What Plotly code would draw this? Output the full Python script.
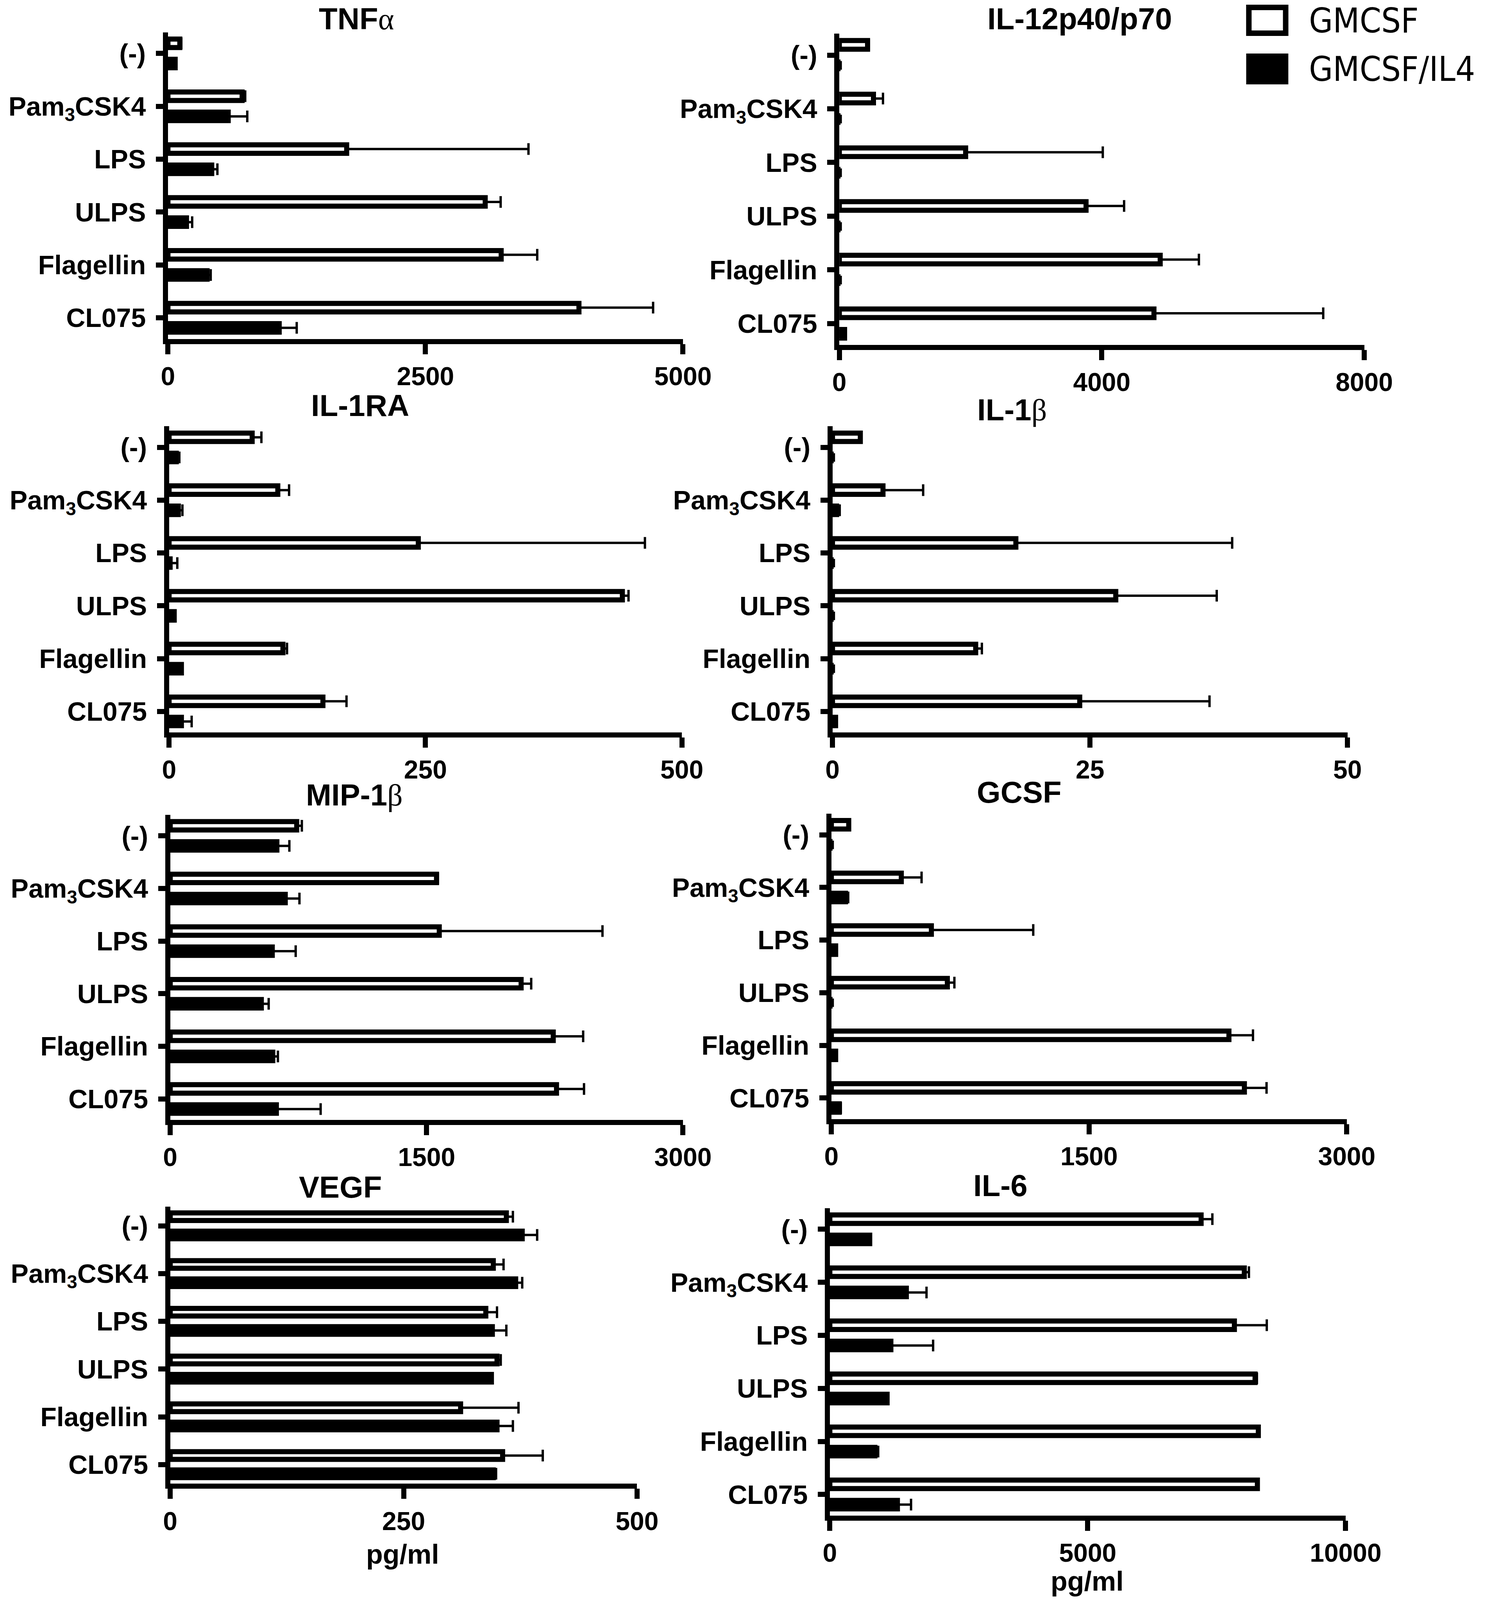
"""
Cytokine secretion panels: GMCSF vs GMCSF/IL4 derived cells, TLR stimulation
"""

import plotly.graph_objects as go

# categories (top to bottom)
stimuli = ["(-)", "Pam<sub>3</sub>CSK4", "LPS", "ULPS", "Flagellin", "CL075"]

# panel titles
titles = ["TNF<span style='font-family:Liberation Serif;font-weight:normal'>α</span>",
          "IL-12p40/p70", "IL-1RA",
          "IL-1<span style='font-family:Liberation Serif;font-weight:normal'>β</span>",
          "MIP-1<span style='font-family:Liberation Serif;font-weight:normal'>β</span>",
          "GCSF", "VEGF", "IL-6"]

# x axis ticks per panel
tick_vals = [[0, 2500, 5000], [0, 4000, 8000], [0, 250, 500], [0, 25, 50],
             [0, 1500, 3000], [0, 1500, 3000], [0, 250, 500], [0, 5000, 10000]]
tick_text = [["0", "2500", "5000"], ["0", "4000", "8000"], ["0", "250", "500"],
             ["0", "25", "50"], ["0", "1500", "3000"], ["0", "1500", "3000"],
             ["0", "250", "500"], ["0", "5000", "10000"]]

# pg/ml, mean and SEM (upper bar only)
tnf_gm = [115, 720, 1735, 3080, 3235, 3990]
tnf_gm_err = [15, 30, 1765, 150, 350, 720]
tnf_il4 = [70, 585, 425, 180, 380, 1080]
tnf_il4_err = [10, 185, 55, 55, 35, 170]

il12_gm = [430, 520, 1925, 3760, 4890, 4795]
il12_gm_err = [20, 145, 2090, 580, 590, 2580]
il12_il4 = [0, 0, 0, 0, 0, 80]
il12_il4_err = [0, 0, 0, 0, 0, 0]

il1ra_gm = [81, 106, 243, 442, 111, 150]
il1ra_gm_err = [9, 11, 221, 6, 4, 23]
il1ra_il4 = [7, 9, 1, 5, 12, 12]
il1ra_il4_err = [3, 4, 7, 0, 0, 10]

il1b_gm = [2.7, 4.9, 17.8, 27.5, 13.9, 24.0]
il1b_gm_err = [0, 3.9, 21.0, 9.8, 0.6, 12.6]
il1b_il4 = [0, 0.4, 0, 0, 0, 0.3]
il1b_il4_err = [0, 0.3, 0, 0, 0, 0]

mip_gm = [740, 1558, 1574, 2053, 2241, 2260]
mip_gm_err = [30, 8, 955, 59, 175, 161]
mip_il4 = [624, 673, 597, 533, 600, 621]
mip_il4_err = [73, 83, 137, 43, 30, 259]

gcsf_gm = [101, 407, 582, 675, 2314, 2404]
gcsf_gm_err = [5, 118, 593, 41, 140, 129]
gcsf_il4 = [0, 82, 25, 0, 25, 46]
gcsf_il4_err = [0, 16, 0, 0, 0, 9]

vegf_gm = [360, 346, 338, 350, 311, 356]
vegf_gm_err = [7, 11, 12, 4, 62, 43]
vegf_il4 = [377, 370, 345, 344, 350, 346]
vegf_il4_err = [16, 7, 15, 1, 17, 3]

il6_gm = [7198, 8035, 7843, 8244, 8307, 8289]
il6_gm_err = [218, 90, 628, 36, 0, 0]
il6_il4 = [773, 1483, 1183, 1110, 874, 1310]
il6_il4_err = [0, 391, 819, 0, 63, 264]

W, H = 3839, 4707
FONT = "Liberation Sans, Arial, sans-serif"
NARROW = "Liberation Sans Narrow, Arial Narrow, DejaVu Sans Condensed, Liberation Sans, sans-serif"

panels = [
    (tnf_gm, tnf_gm_err, tnf_il4, tnf_il4_err),
    (il12_gm, il12_gm_err, il12_il4, il12_il4_err),
    (il1ra_gm, il1ra_gm_err, il1ra_il4, il1ra_il4_err),
    (il1b_gm, il1b_gm_err, il1b_il4, il1b_il4_err),
    (mip_gm, mip_gm_err, mip_il4, mip_il4_err),
    (gcsf_gm, gcsf_gm_err, gcsf_il4, gcsf_il4_err),
    (vegf_gm, vegf_gm_err, vegf_il4, vegf_il4_err),
    (il6_gm, il6_gm_err, il6_il4, il6_il4_err),
]

# plot area boxes in reference pixels: x0, x1, y_top, y_bottom
boxes = [
    (424, 1781, 95, 997), (2193, 3576, 99, 1015),
    (427, 1778, 1254, 2155), (2175, 3532, 1254, 2155),
    (430, 1781, 2397, 3295), (2172, 3530, 2394, 3292),
    (430, 1660, 3550, 4365), (2168, 3527, 3554, 4459),
]
# title centres in reference pixels
title_pos = [(921, 40), (2827, 44), (930, 1197), (2648, 1208),
             (915, 2342), (2667, 2335), (878, 3496), (2617, 3492)]


def px(x):
    return x / W


def py(y):
    return 1 - y / H


fig = go.Figure()
layout = {}

for i, (gm, gm_err, il4, il4_err) in enumerate(panels):
    s = "" if i == 0 else str(i + 1)
    xid, yid = "x" + s, "y" + s
    for vals, errs, fill, name in [(gm, gm_err, "white", "GMCSF"),
                                   (il4, il4_err, "black", "GMCSF/IL4")]:
        fig.add_trace(go.Bar(
            x=vals, y=stimuli, orientation="h", name=name,
            xaxis=xid, yaxis=yid, showlegend=False,
            marker=dict(color=fill, line=dict(color="black", width=13)),
            error_x=dict(type="data", array=errs, arrayminus=[0] * len(errs),
                         symmetric=False, color="black", thickness=6, width=15),
        ))
    x0, x1, yt, yb = boxes[i]
    layout["xaxis" + s] = dict(
        domain=[px(x0), px(x1)], anchor=yid, range=[0, tick_vals[i][-1]],
        tickmode="array", tickvals=tick_vals[i], ticktext=tick_text[i],
        showline=True, linewidth=13, linecolor="black", ticks="outside",
        ticklen=26, tickwidth=13, tickcolor="black", showgrid=False, zeroline=False,
        ticklabelstandoff=0, tickfont=dict(family=FONT, size=66, color="black", weight="bold"),
    )
    layout["yaxis" + s] = dict(
        domain=[py(yb), py(yt)], anchor=xid, type="category",
        categoryorder="array", categoryarray=stimuli, range=[5.4, -0.4],
        showline=True, linewidth=13, linecolor="black", ticks="outside",
        ticklen=18, tickwidth=13, tickcolor="black", showgrid=False, zeroline=False,
        ticklabelstandoff=12, tickfont=dict(family=FONT, size=68, color="black", weight="bold"),
    )

title_font = dict(family=FONT, size=78, color="black", weight="bold")
annotations = []
for i, (t, (tx, ty)) in enumerate(zip(titles, title_pos)):
    yt = boxes[i][2]
    if i < 2:
        # top row: hang from the top edge of the page
        annotations.append(dict(text=t, x=px(tx), y=1, yshift=-2, xref="paper", yref="paper",
                                showarrow=False, xanchor="center", yanchor="top",
                                font=title_font))
    else:
        # other rows: fixed pixel distance above their own plot area
        annotations.append(dict(text=t, x=px(tx), y=py(yt), yshift=yt - ty - 4,
                                xref="paper", yref="paper", showarrow=False,
                                xanchor="center", yanchor="middle", font=title_font))

unit_font = dict(family=FONT, size=70, color="black", weight="bold")
annotations.append(dict(text="pg/ml", x=px(1042), y=py(4365), yshift=-181,
                        xref="paper", yref="paper", showarrow=False,
                        xanchor="center", yanchor="middle", font=unit_font))
annotations.append(dict(text="pg/ml", x=px(2846), y=0, yshift=H - 4659,
                        xref="paper", yref="paper", showarrow=False,
                        xanchor="center", yanchor="middle", font=unit_font))

# legend text
for label, ty in [("GMCSF", 52), ("GMCSF/IL4", 176)]:
    annotations.append(dict(text=label, x=px(3428), y=1, yshift=-ty, xref="paper", yref="paper",
                            showarrow=False, xanchor="left", yanchor="middle",
                            font=dict(family=NARROW, size=88, color="black")))

# legend keys, sized in pixels from the top edge
shapes = [
    dict(type="rect", xref="paper", yref="paper", ysizemode="pixel", yanchor=1,
         x0=px(3272), x1=px(3369), y0=-85, y1=-19,
         fillcolor="white", line=dict(color="black", width=14)),
    dict(type="rect", xref="paper", yref="paper", ysizemode="pixel", yanchor=1,
         x0=px(3265), x1=px(3376), y0=-216, y1=-137,
         fillcolor="black", line=dict(width=0)),
]

fig.update_layout(
    **layout,
    barmode="group", bargap=0.236, bargroupgap=0.58,
    autosize=True, margin=dict(l=0, r=0, t=0, b=0),
    paper_bgcolor="white", plot_bgcolor="white",
    font=dict(family=FONT, color="black"),
    annotations=annotations, shapes=shapes, showlegend=False,
)

# fill the browser window exactly, whatever its size
fig.write_html(
    "out.html",
    default_width="100vw", default_height="100vh",
    config={"responsive": True, "displayModeBar": False},
    post_script="document.body.style.margin='0';"
                "document.body.style.overflow='hidden';"
                "Plotly.Plots.resize(document.getElementById('{plot_id}'));",
)
